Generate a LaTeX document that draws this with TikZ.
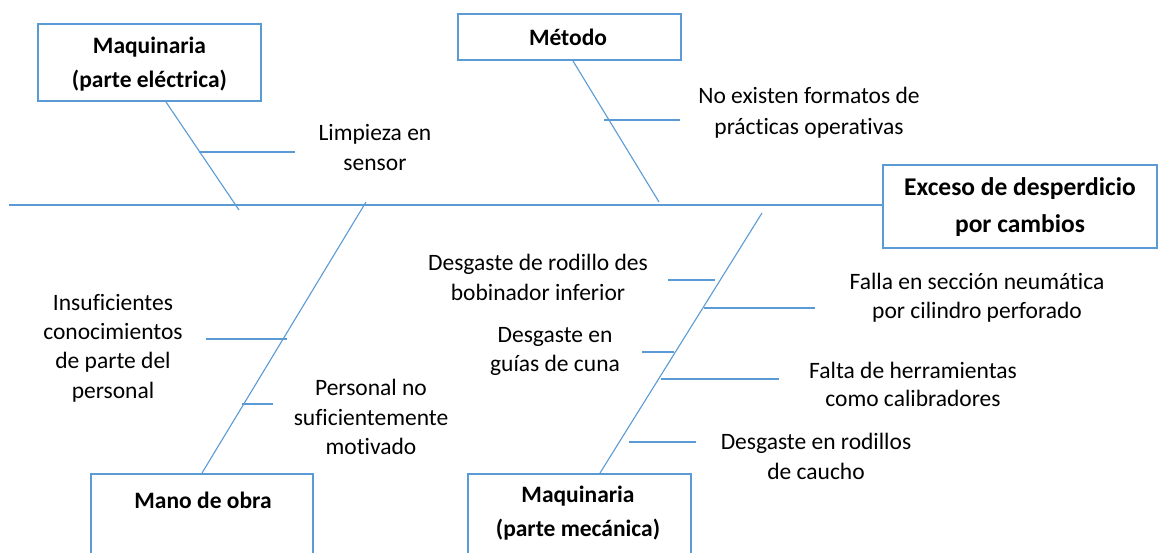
\documentclass[tikz,border=0pt]{standalone}
\usepackage{fontspec}
\setmainfont{Carlito}[Ligatures=NoCommon]
\definecolor{acc}{RGB}{91,155,213}
\begin{document}
\begin{tikzpicture}[x=1pt,y=-1pt,
  bone/.style={draw=acc, line width=1.1pt},
  catbox/.style={draw=acc, line width=2pt, rectangle, inner sep=0pt, fill=none},
  btxt/.style={font=\fontsize{23.5}{34}\selectfont\bfseries, align=center, inner sep=0pt, text=black},
  ctxt/.style={font=\fontsize{23.5}{29.3}\selectfont, align=center, inner sep=0pt, text=black}]
\useasboundingbox (0,0) rectangle (1160,552);
\clip (0,0) rectangle (1160,552);
\fill[white] (0,0) rectangle (1160,552);

% category boxes
\node[catbox, minimum width=223pt, minimum height=77pt] (elec) at (149.5,62.5) {};
\node[btxt] (elect) at (149.5,64) {Maquinaria\\(parte eléctrica)};
\node[catbox, minimum width=223pt, minimum height=46pt] (met) at (569.5,37) {};
\node[btxt] (mett) at (568,37) {Método};
\node[catbox, minimum width=274pt, minimum height=83pt] (exc) at (1020,206.5) {};
\node[btxt, font=\fontsize{25.5}{37}\selectfont\bfseries] (exct) at (1020,207.5) {Exceso de desperdicio\\por cambios};
\node[catbox, minimum width=222pt, minimum height=118pt] (mano) at (202,533) {};
\node[btxt] (manot) at (203,500) {Mano de obra};
\node[catbox, minimum width=223pt, minimum height=118pt] (mec) at (579.5,533) {};
\node[btxt] (mect) at (578,513) {Maquinaria\\(parte mecánica)};

% cause texts
\node[ctxt, font=\fontsize{23.5}{30}\selectfont] (limp) at (375,147) {Limpieza en\\sensor};
\node[ctxt, font=\fontsize{23.5}{31}\selectfont] (noex) at (809,113) {No existen formatos de\\prácticas operativas};
\node[ctxt] (insu) at (113,348) {Insuficientes\\conocimientos\\de parte del\\personal};
\node[ctxt] (pers) at (371,417) {Personal no\\suficientemente\\motivado};
\node[ctxt] (rod) at (538,277.5) {Desgaste de rodillo des\\bobinador inferior};
\node[ctxt] (guia) at (555,351.5) {Desgaste en\\guías de cuna};
\node[ctxt] (falla) at (977,297.5) {Falla en sección neumática\\por cilindro perforado};
\node[ctxt, font=\fontsize{23.5}{28}\selectfont] (falta) at (913,384) {Falta de herramientas\\como calibradores};
\node[ctxt] (caucho) at (816,456.5) {Desgaste en rodillos\\de caucho};

% coordinates
\coordinate (sp0) at (9,205);
\coordinate (etop) at (166,102); \coordinate (ebot) at (239,210);
\coordinate (e1a) at (199,152); \coordinate (e1b) at (295,152);
\coordinate (mtop) at (573,61); \coordinate (mbot) at (659,202);
\coordinate (m1a) at (604,120); \coordinate (m1b) at (680,120);
\coordinate (otop) at (366,202); \coordinate (obot) at (202,473);
\coordinate (o1a) at (206,339); \coordinate (o1b) at (287,339);
\coordinate (o2a) at (242,404); \coordinate (o2b) at (273,404);
\coordinate (ktop) at (762,213); \coordinate (kbot) at (600,473);
\coordinate (k1a) at (668,280); \coordinate (k1b) at (715,280);
\coordinate (k2a) at (704,308); \coordinate (k2b) at (815,308);
\coordinate (k3a) at (642,352); \coordinate (k3b) at (674,352);
\coordinate (k4a) at (661,379); \coordinate (k4b) at (779,379);
\coordinate (k5a) at (629,442); \coordinate (k5b) at (696,442);

% spine
\draw[bone] (sp0) -- (sp0 -| exc.west);
% bones
\draw[bone] (etop) -- (ebot);
\draw[bone] (e1a) -- (e1b);
\draw[bone] (mtop) -- (mbot);
\draw[bone] (m1a) -- (m1b);
\draw[bone] (otop) -- (obot);
\draw[bone] (o1a) -- (o1b);
\draw[bone] (o2a) -- (o2b);
\draw[bone] (ktop) -- (kbot);
\draw[bone] (k1a) -- (k1b);
\draw[bone] (k2a) -- (k2b);
\draw[bone] (k3a) -- (k3b);
\draw[bone] (k4a) -- (k4b);
\draw[bone] (k5a) -- (k5b);
\end{tikzpicture}
\end{document}
